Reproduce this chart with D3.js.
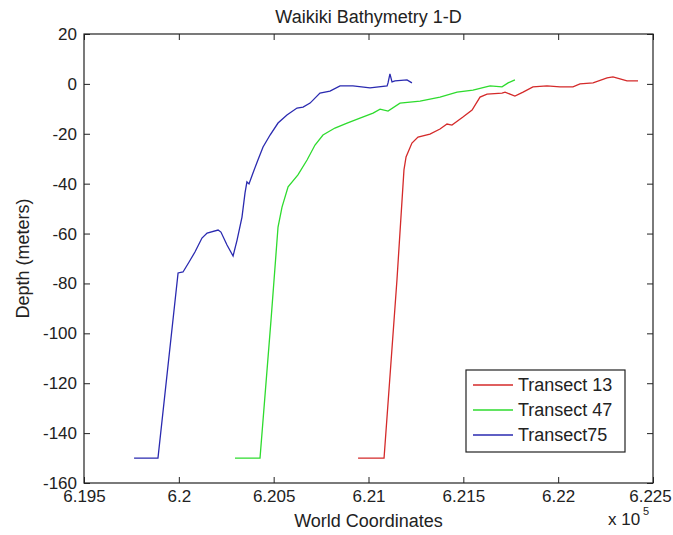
<!DOCTYPE html>
<html>
<head>
<meta charset="utf-8">
<script src="https://cdn.jsdelivr.net/npm/d3@7"></script>
<style>
  body { margin: 0; background: #fff; }
  text { font-family: "Liberation Sans", Arial, sans-serif; fill: #222; }
</style>
</head>
<body>
<div id="chart"></div>
<script>
// Transect data: easting (world coords, m) and depth (m)
var t13X = [620945, 621082, 621150, 621187, 621198, 621229, 621261, 621324, 621377, 621414,
            621440, 621498, 621546, 621588, 621625, 621704, 621720, 621746, 621772, 621815,
            621867, 621941, 622010, 622078, 622115, 622184, 622258, 622289, 622326, 622363, 622421];
var t13Y = [-150, -150, -78.6, -34.5, -29.3, -23.7, -21.3, -20.1, -18.1, -16.1,
            -16.5, -13.3, -10.5, -5.3, -4.1, -3.7, -3.3, -4.1, -4.9, -3.3,
            -1.2, -0.8, -1.2, -1.2, 0, 0.4, 2.4, 2.8, 2, 1.2, 1.2];

var t47X = [620296, 620428, 620486, 620523, 620544, 620576, 620628, 620676, 620718, 620760,
            620823, 620887, 620955, 621024, 621061, 621103, 621166, 621272, 621377, 621467,
            621551, 621641, 621704, 621736, 621772];
var t47Y = [-150, -150, -94.7, -57.4, -49.4, -41.3, -36.5, -30.5, -24.5, -20.5,
            -17.7, -15.7, -13.7, -11.7, -10.1, -10.9, -7.7, -6.9, -5.3, -3.3,
            -2.5, -0.8, -1.2, 0.4, 1.6];

var t75X = [619764, 619890, 619996, 620022, 620054, 620085, 620122, 620149, 620207, 620222,
            620254, 620286, 620307, 620333, 620349, 620359, 620370, 620391, 620417, 620444,
            620481, 620523, 620570, 620623, 620655, 620692, 620744, 620797, 620850, 620918,
            621008, 621098, 621103, 621113, 621124, 621140, 621203, 621229];
var t75Y = [-150, -150, -75.8, -75.4, -71.4, -67.4, -61.8, -59.8, -58.6, -59.4,
            -64.6, -69, -62.6, -53.4, -43.7, -39.3, -40.1, -35.7, -30.5, -25.3,
            -20.5, -15.7, -12.5, -9.7, -9.3, -7.7, -3.7, -2.9, -0.8, -0.8,
            -1.6, -0.8, 0.4, 4, 0.8, 1.2, 1.6, 0.4];

var seriesNames  = ["Transect 13", "Transect 47", "Transect75"];
var seriesColors = ["#d42a2a", "#2edb2e", "#2a2ab0"];
var xTicks = [619500, 620000, 620500, 621000, 621500, 622000, 622500];
var yTicks = [-160, -140, -120, -100, -80, -60, -40, -20, 0, 20];

var series = [
  { name: seriesNames[0], color: seriesColors[0], xs: t13X, ys: t13Y },
  { name: seriesNames[1], color: seriesColors[1], xs: t47X, ys: t47Y },
  { name: seriesNames[2], color: seriesColors[2], xs: t75X, ys: t75Y }
];

var margin = {top: 34, right: 20, bottom: 52, left: 84};
var width = 673 - margin.left - margin.right,
    height = 535 - margin.top - margin.bottom;

var svg = d3.select("#chart").append("svg")
    .attr("width", 673)
    .attr("height", 535);

var g = svg.append("g")
    .attr("transform", "translate(" + margin.left + "," + margin.top + ")");

// Scales
var x = d3.scaleLinear().domain([619500, 622500]).range([0, width]);
var y = d3.scaleLinear().domain([-160, 20]).range([height, 0]);

// Axes (ticks point inward, matlab style)
var fmtX = function(d) { return String(+(d / 1e5).toFixed(3)); };

var xAxisG = g.append("g")
    .attr("class", "axis")
    .attr("transform", "translate(0," + height + ")")
    .call(d3.axisBottom(x).tickValues(xTicks).tickFormat(fmtX).tickSizeInner(-6).tickSizeOuter(0).tickPadding(7));

// last label sits right on the page edge, pull it in a bit
xAxisG.selectAll(".tick text")
    .filter(function(d) { return d === xTicks[xTicks.length - 1]; })
    .attr("dx", -3);

g.append("g")
    .attr("class", "axis")
    .call(d3.axisTop(x).tickValues(xTicks).tickFormat("").tickSizeInner(-6).tickSizeOuter(0));

g.append("g")
    .attr("class", "axis")
    .call(d3.axisLeft(y).tickValues(yTicks).tickFormat(function(d) { return d; }).tickSizeInner(-6).tickSizeOuter(0).tickPadding(7));

g.append("g")
    .attr("class", "axis")
    .attr("transform", "translate(" + width + ",0)")
    .call(d3.axisRight(y).tickValues(yTicks).tickFormat("").tickSizeInner(-6).tickSizeOuter(0));

g.selectAll(".axis .domain").remove();
g.selectAll(".axis line").attr("stroke", "#222");
g.selectAll(".axis text")
    .style("font-size", "17px")
    .style("font-family", "'Liberation Sans', Arial, sans-serif")
    .attr("fill", "#222");

// Box
g.append("rect")
    .attr("width", width)
    .attr("height", height)
    .attr("fill", "none")
    .attr("stroke", "#222")
    .attr("stroke-width", 1.2);

// Lines
var line = d3.line()
    .x(function(d) { return x(d[0]); })
    .y(function(d) { return y(d[1]); });

g.selectAll(".transect")
    .data(series)
  .enter().append("path")
    .attr("class", "transect")
    .attr("fill", "none")
    .attr("stroke", function(d) { return d.color; })
    .attr("stroke-width", 1.3)
    .attr("d", function(d) { return line(d3.zip(d.xs, d.ys)); });

// Title
svg.append("text")
    .attr("x", margin.left + width / 2)
    .attr("y", 23)
    .attr("text-anchor", "middle")
    .style("font-size", "18px")
    .text("Waikiki Bathymetry 1-D");

// Axis labels
svg.append("text")
    .attr("x", margin.left + width / 2)
    .attr("y", 527)
    .attr("text-anchor", "middle")
    .style("font-size", "18px")
    .text("World Coordinates");

svg.append("text")
    .attr("text-anchor", "middle")
    .attr("dy", "0.35em")
    .attr("transform", "translate(23," + (margin.top + height / 2) + ")rotate(-90)")
    .style("font-size", "18px")
    .text("Depth (meters)");

// x 10^5 exponent
svg.append("text")
    .attr("x", 608)
    .attr("y", 525)
    .style("font-size", "17px")
    .text("x 10");
svg.append("text")
    .attr("x", 643)
    .attr("y", 515)
    .style("font-size", "11px")
    .text("5");

// Legend
var legend = svg.append("g")
    .attr("transform", "translate(466,370)");

legend.append("rect")
    .attr("width", 159)
    .attr("height", 82)
    .attr("fill", "#fff")
    .attr("stroke", "#222")
    .attr("stroke-width", 1.2);

var item = legend.selectAll(".item")
    .data(series)
  .enter().append("g")
    .attr("class", "item")
    .attr("transform", function(d, i) { return "translate(0," + (15 + i * 25) + ")"; });

item.append("line")
    .attr("x1", 7)
    .attr("x2", 47)
    .attr("stroke", function(d) { return d.color; })
    .attr("stroke-width", 1.3);

item.append("text")
    .attr("x", 52)
    .attr("dy", "0.35em")
    .style("font-size", "18px")
    .text(function(d) { return d.name; });
</script>
</body>
</html>
